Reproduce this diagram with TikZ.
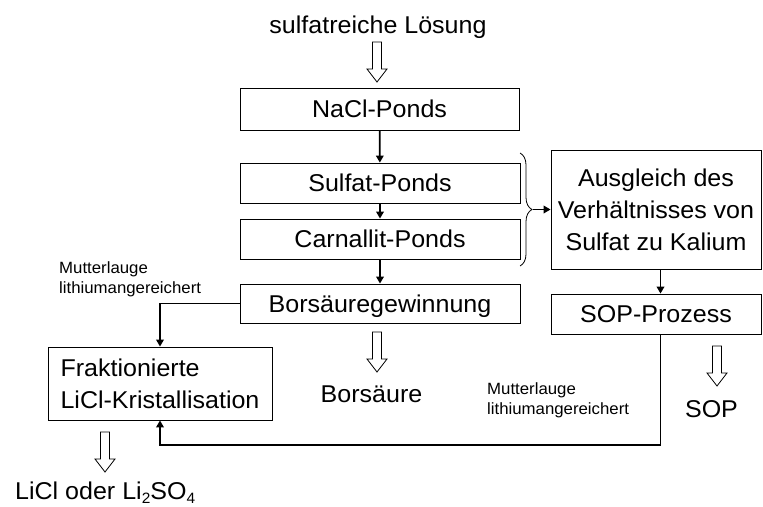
\documentclass[tikz,border=0pt]{standalone}
\usepackage{fontspec}
\setmainfont[FakeStretch=1.03]{Liberation Sans}
\usetikzlibrary{arrows.meta,decorations.pathreplacing,calc}

\begin{document}
\begin{tikzpicture}[x=1pt,y=-1pt,
  bigfont/.style={font=\fontsize{24.3}{32}\selectfont},
  box/.style={bigfont, draw=black, line width=0.8pt, inner sep=0pt},
  onebox/.style={box, text depth=0pt},
  lbl/.style={bigfont, inner sep=0pt},
  note/.style={font=\fontsize{16.3}{20.5}\selectfont, align=left, inner sep=0pt},
  flow/.style={line width=1.8pt, -{Triangle[length=7pt,width=7.5pt]}},
  openarrow/.pic={\draw[line width=0.8pt, fill=white]
      (-4.5,0) -- (-4.5,27) -- (-10,27) -- (0,40) -- (10,27) -- (4.5,27) -- (4.5,0) -- cycle;}
]
\useasboundingbox (0,0) rectangle (763,506);

% main chain of ponds
\node[onebox, minimum width=279pt, minimum height=42pt] (nacl) at (379.5,109) {NaCl-Ponds};
\node[onebox, minimum width=280pt, minimum height=40pt] (sulf) at (380,183) {Sulfat-Ponds};
\node[onebox, minimum width=280pt, minimum height=40pt] (carn) at (380,239) {Carnallit-Ponds};
\node[onebox, minimum width=280pt, minimum height=39pt] (bors) at (380,303.5) {Borsäuregewinnung};

% lithium branch
\node[box, align=left, minimum width=224pt, minimum height=73pt] (licl) at (160,383.5)
  {Fraktionierte\\LiCl-Kristallisation};

% potassium sulfate branch
\node[box, align=center, minimum width=210pt, minimum height=119pt] (ausgl) at (656,209.5)
  {Ausgleich des\\Verhältnisses von\\Sulfat zu Kalium};
\node[onebox, minimum width=210pt, minimum height=40pt] (sop) at (656,314) {SOP-Prozess};

% inputs and products
\node[lbl, anchor=base] (src) at (378,33) {sulfatreiche Lösung};
\node[lbl, anchor=base] (borsout) at (371.5,402) {Borsäure};
\node[lbl, anchor=base] (sopout) at (711.5,417) {SOP};
\node[lbl, anchor=base west] (liout) at (15,499)
  {LiCl oder Li\raisebox{-0.18em}{\fontsize{15}{15}\selectfont 2}SO\raisebox{-0.18em}{\fontsize{15}{15}\selectfont 4}};

\node[note, anchor=north west] (ml1) at (59,261) {Mutterlauge\\lithiumangereichert};
\node[note, anchor=north west] (ml2) at (487,382) {Mutterlauge\\lithiumangereichert};

% open block arrows for feed and products
\pic at (377,42) {openarrow};
\pic at (377,332) {openarrow};
\pic at (717,346) {openarrow};
\pic at (105,432) {openarrow};

% flow connectors
\draw[flow] (nacl) -- (sulf);
\draw[flow] (sulf) -- (carn);
\draw[flow] (carn) -- (bors);

\coordinate (rx) at (660.5,0);
\draw[flow] (ausgl.south -| rx) -- (sop.north -| rx);

\coordinate (bt) at (520,153);
\coordinate (bb) at (520,266);
\coordinate (btip) at (533,209.5);
\draw[line width=0.8pt, decorate, decoration={brace, amplitude=12pt}] (bt) -- (bb);
\draw[flow] (btip) -- (ausgl.west);

\draw[flow] (bors.west) -| (licl.north);

\coordinate (lowR) at (660.5,445);
\draw[flow] (sop.south -| rx) -- (lowR) -| (licl.south);
\end{tikzpicture}
\end{document}
